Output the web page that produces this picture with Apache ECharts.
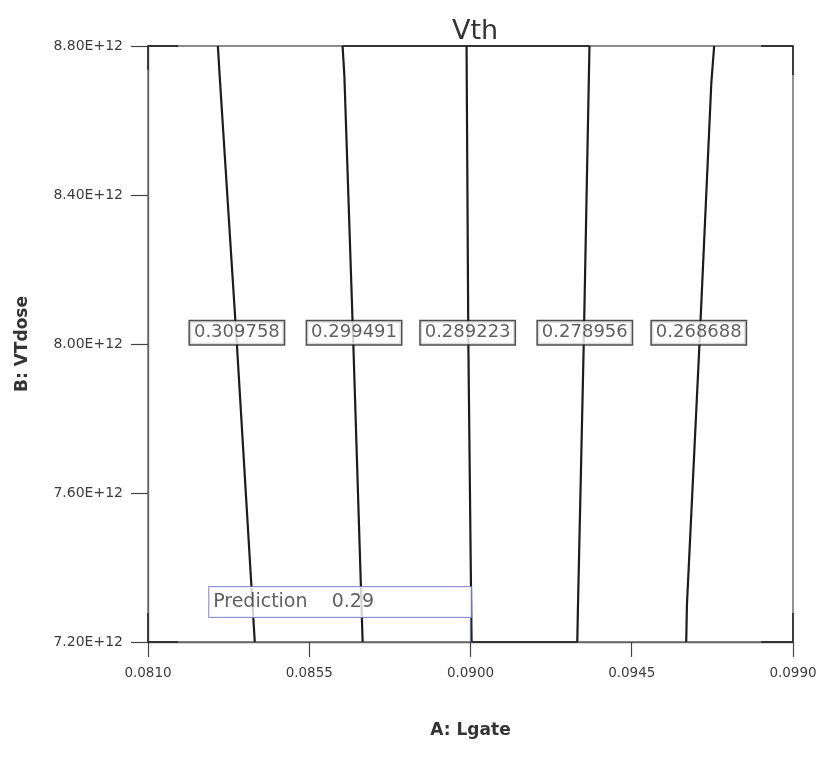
<!DOCTYPE html>
<html>
<head>
<meta charset="utf-8">
<title>Vth</title>
<script src="https://cdn.jsdelivr.net/npm/echarts@6/dist/echarts.min.js"></script>
<style>
  html, body { margin: 0; padding: 0; background: #ffffff; }
  #chart { width: 824px; height: 774px; }
</style>
</head>
<body>
<div id="chart"></div>
<script>
// Axis ranges and ticks
const lgateRange = [0.081, 0.099];
const lgateStep = 0.0045;
const doseRange = [7.2e12, 8.8e12];
const doseStep = 0.4e12;

// Contour levels of Vth
const levels = [0.309758, 0.299491, 0.289223, 0.278956, 0.268688];

// Each contour as [Lgate, VTdose] points (top, middle, bottom)
const contour1 = [[0.08295, 8.8e12], [0.08300, 8.72e12], [0.08348, 8.0e12], [0.08398, 7.2e12]];
const contour2 = [[0.08643, 8.8e12], [0.08648, 8.72e12], [0.08673, 8.0e12], [0.08699, 7.2e12]];
const contour3 = [[0.08989, 8.8e12], [0.08994, 8.0e12], [0.09003, 7.2e12]];
const contour4 = [[0.09332, 8.8e12], [0.09316, 8.0e12], [0.09300, 7.3e12], [0.09298, 7.2e12]];
const contour5 = [[0.09680, 8.8e12], [0.09672, 8.7e12], [0.09639, 8.0e12], [0.09604, 7.3e12], [0.09602, 7.2e12]];
const contours = [contour1, contour2, contour3, contour4, contour5];

// Short contour pieces that run along the edge of the design space
const edgePieces = [
  [[0.0810, 8.736e12], [0.0810, 8.8e12], [0.08184, 8.8e12]],
  [[0.08643, 8.8e12], [0.09332, 8.8e12]],
  [[0.09811, 8.8e12], [0.0990, 8.8e12], [0.0990, 8.722e12]],
  [[0.0810, 7.278e12], [0.0810, 7.2e12], [0.08184, 7.2e12]],
  [[0.09003, 7.2e12], [0.09298, 7.2e12]],
  [[0.09811, 7.2e12], [0.0990, 7.2e12], [0.0990, 7.278e12]]
];

// Where each level tag sits on its contour
const tagLgate = [0.08348, 0.08675, 0.08992, 0.09319, 0.09637];
const tagDose = 8.03e12;

// Prediction flag
const predLgate = 0.0900;
const predDose = 7.2e12;
const predValue = 0.29;

const chart = echarts.init(document.getElementById('chart'), null, { renderer: 'canvas' });

const tickText = { fontFamily: 'DejaVu Sans', color: '#3c3c3c' };

const series = contours.map((pts, i) => ({
  name: 'Vth ' + levels[i].toFixed(6),
  type: 'line',
  data: pts,
  symbol: 'none',
  smooth: false,
  clip: false,
  lineStyle: { color: '#1c1c1c', width: 2.2 },
  z: 3,
  silent: true
}));

edgePieces.forEach((pts, i) => series.push({
  name: 'edge ' + i,
  type: 'line',
  data: pts,
  symbol: 'none',
  clip: false,
  lineStyle: { color: '#333', width: 1.8 },
  z: 2,
  silent: true
}));

series.push({
  name: 'levels',
  type: 'scatter',
  data: tagLgate.map((x, i) => [x, tagDose, levels[i].toFixed(6)]),
  symbolSize: 1,
  itemStyle: { color: 'transparent' },
  silent: true,
  z: 5,
  label: {
    show: true,
    position: 'inside',
    formatter: p => p.data[2],
    fontFamily: 'DejaVu Sans',
    fontSize: 18,
    lineHeight: 18,
    color: '#383838',
    backgroundColor: '#ffffff',
    borderColor: '#222',
    borderWidth: 1.5,
    padding: [3, 4, 2, 4]
  }
});

// Flag box: 262 px wide, 30 px tall, right edge on the flag pole
series.push({
  name: 'prediction',
  type: 'scatter',
  data: [[predLgate, predDose]],
  symbol: 'rect',
  symbolSize: [1.3, 25],
  symbolOffset: [0, -12.5],
  itemStyle: { color: '#6e6ec8' },
  clip: false,
  silent: true,
  z: 6,
  label: {
    show: true,
    position: [1.3 - 262, -30],
    align: 'left',
    verticalAlign: 'top',
    formatter: () => 'Prediction    ' + predValue.toFixed(2),
    fontFamily: 'DejaVu Sans',
    fontSize: 19,
    lineHeight: 22,
    color: '#383838',
    width: 250,
    backgroundColor: '#ffffff',
    borderColor: '#7878c8',
    borderWidth: 1,
    padding: [4, 8, 4, 4]
  }
});

chart.setOption({
  animation: false,
  backgroundColor: '#ffffff',
  title: {
    text: 'Vth',
    left: 470,
    textAlign: 'center',
    top: 13,
    textStyle: { fontFamily: 'DejaVu Sans', fontSize: 27, fontWeight: 'normal', color: '#333' }
  },
  grid: {
    left: 148, right: 31, top: 46, bottom: 132,
    show: true, borderColor: '#666', borderWidth: 1.4, backgroundColor: '#ffffff'
  },
  xAxis: {
    type: 'value',
    min: lgateRange[0], max: lgateRange[1], interval: lgateStep,
    splitLine: { show: false },
    axisLine: { show: true, lineStyle: { color: '#666', width: 1.4 } },
    axisTick: { show: true, inside: false, length: 15, lineStyle: { color: '#444', width: 1.2 } },
    axisLabel: Object.assign({ fontSize: 13.5, margin: 24, formatter: v => v.toFixed(4) }, tickText),
    name: 'A: Lgate',
    nameLocation: 'middle',
    nameGap: 80,
    nameTextStyle: { fontFamily: 'DejaVu Sans', fontSize: 17, fontWeight: 'bold', color: '#333' }
  },
  yAxis: {
    type: 'value',
    min: doseRange[0], max: doseRange[1], interval: doseStep,
    splitLine: { show: false },
    axisLine: { show: true, lineStyle: { color: '#666', width: 1.4 } },
    axisTick: { show: true, inside: false, length: 17, lineStyle: { color: '#444', width: 1.2 } },
    axisLabel: Object.assign({ fontSize: 14, margin: 25, formatter: v => (v / 1e12).toFixed(2) + 'E+12' }, tickText),
    name: 'B: VTdose',
    nameLocation: 'middle',
    nameGap: 117,
    nameTextStyle: { fontFamily: 'DejaVu Sans', fontSize: 17, fontWeight: 'bold', color: '#333' }
  },
  tooltip: { show: false },
  series: series
});
</script>
</body>
</html>
